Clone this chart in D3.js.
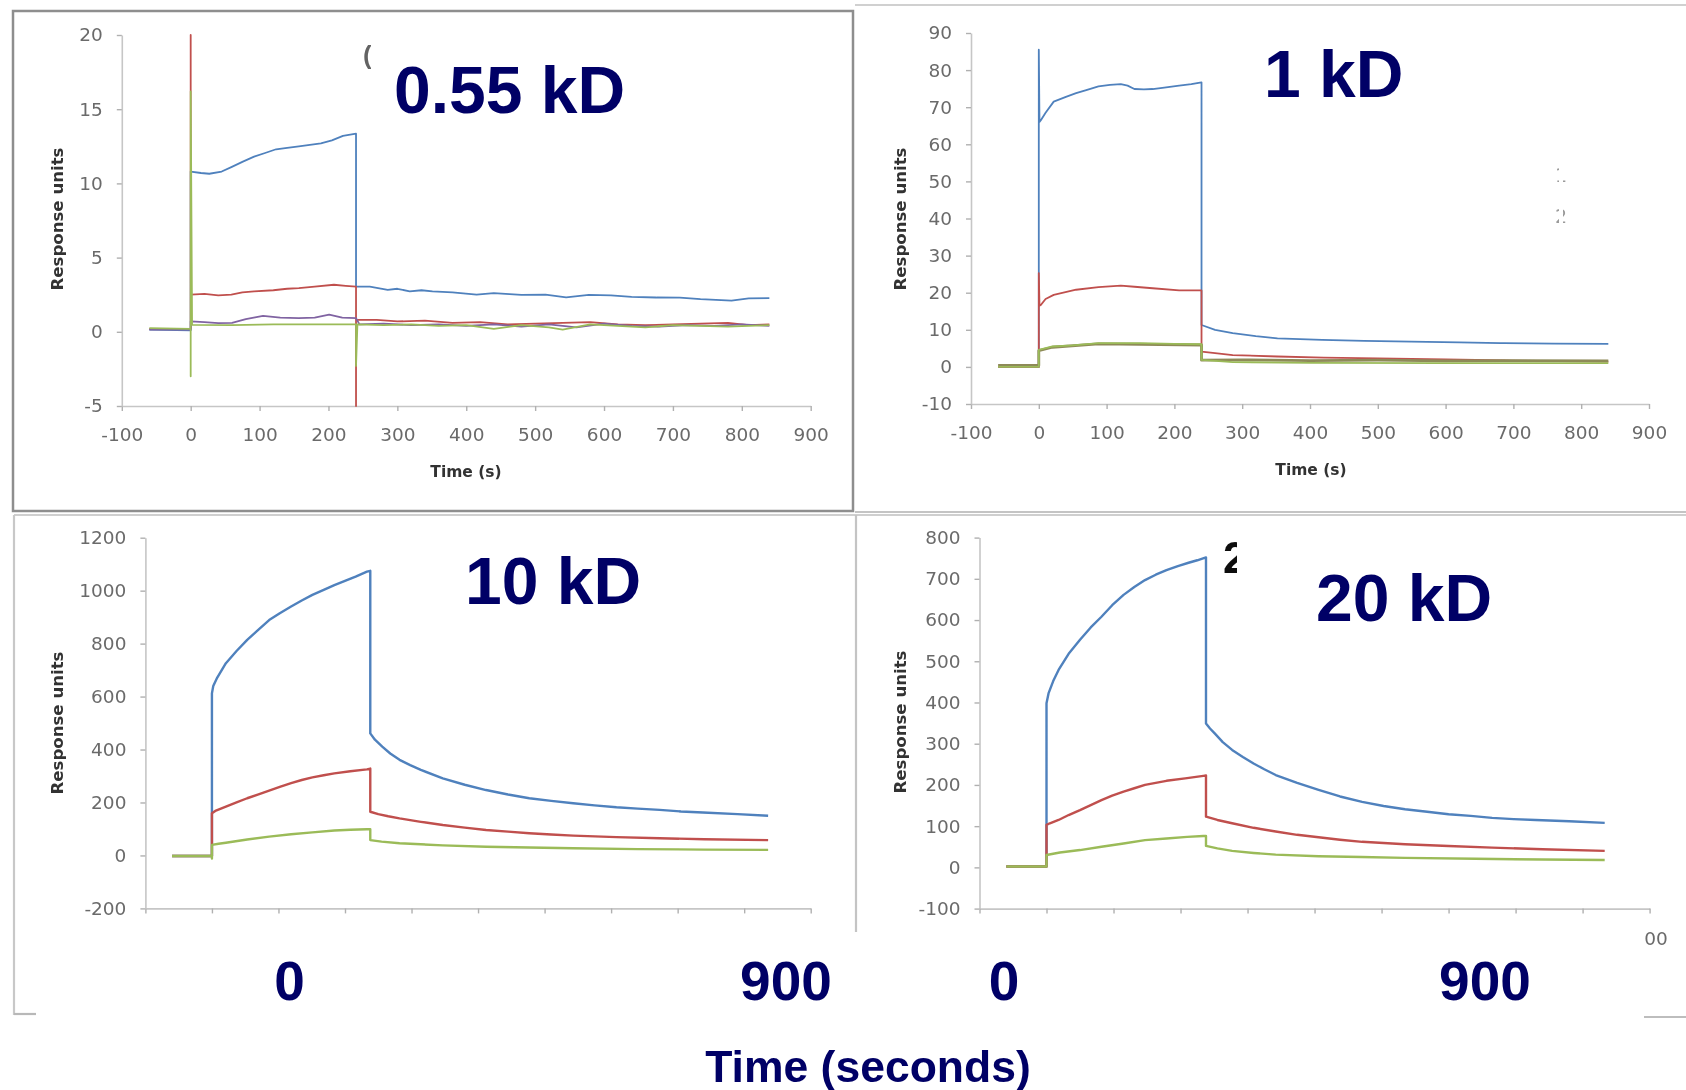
<!DOCTYPE html>
<html>
<head>
<meta charset="utf-8">
<script src="https://cdnjs.cloudflare.com/ajax/libs/d3/7.8.5/d3.min.js"></script>
<style>
  body { margin: 0; background: #fff; }
  svg { display: block; }
</style>
</head>
<body>
<svg id="fig"></svg>
<script>
// time ticks shared by all four sensorgrams
var xTicks = [-100, 0, 100, 200, 300, 400, 500, 600, 700, 800, 900];
var p1YTicks = [-5, 0, 5, 10, 15, 20];
var p2YTicks = [-10, 0, 10, 20, 30, 40, 50, 60, 70, 80, 90];
var p3YTicks = [-200, 0, 200, 400, 600, 800, 1000, 1200];
var p4YTicks = [-100, 0, 100, 200, 300, 400, 500, 600, 700, 800];

var titles = ["0.55 kD", "1 kD", "10 kD", "20 kD"];
var bottomLabels = ["0", "900"];

// [time (s), response units]
var p1Blue = [[-60,0.15],[0,0.1],[0,10.8],[15,10.7],[27,10.65],[45,10.8],[59,11.1],[75,11.45],[92,11.8],[108,12.05],[124,12.3],[140,12.4],[157,12.5],[173,12.6],[189,12.7],[205,12.9],[221,13.2],[240,13.35],[240,3.05],[260,3.05],[272,2.95],[286,2.83],[300,2.9],[318,2.72],[335,2.8],[351,2.72],[380,2.65],[415,2.5],[440,2.6],[480,2.49],[515,2.5],[545,2.32],[578,2.49],[610,2.45],[640,2.35],[675,2.31],[710,2.3],[740,2.2],[785,2.1],[810,2.25],[840,2.27]];
var p1Red = [[-60,0.2],[0,0.2],[0,20],[0,2.5],[20,2.55],[40,2.45],[59,2.5],[75,2.65],[92,2.72],[120,2.8],[140,2.9],[157,2.94],[180,3.05],[208,3.17],[225,3.1],[240,3.05],[240,-5],[240,0.8],[270,0.8],[300,0.7],[340,0.75],[380,0.6],[420,0.65],[460,0.5],[500,0.55],[540,0.6],[580,0.65],[620,0.5],[660,0.45],[700,0.5],[740,0.55],[780,0.6],[810,0.45],[840,0.5]];
var p1Purple = [[-60,0.15],[0,0.15],[0,0.7],[20,0.65],[40,0.58],[60,0.6],[80,0.85],[105,1.08],[130,0.95],[157,0.92],[180,0.95],[201,1.15],[220,0.95],[240,0.92],[245,0.5],[280,0.55],[320,0.45],[360,0.5],[400,0.4],[440,0.5],[480,0.35],[520,0.5],[560,0.3],[600,0.55],[640,0.4],[680,0.35],[720,0.45],[760,0.4],[800,0.5],[840,0.4]];
var p1Green = [[-60,0.25],[0,0.2],[0,-3],[0,16.2],[2,0.47],[60,0.45],[120,0.5],[180,0.5],[240,0.5],[240,-2.3],[242,0.5],[280,0.45],[320,0.5],[360,0.4],[400,0.45],[440,0.2],[480,0.45],[520,0.3],[540,0.15],[580,0.5],[620,0.4],[660,0.3],[700,0.45],[740,0.4],[780,0.35],[840,0.45]];

var p2Blue = [[-60,0],[0,0],[0,85.5],[1,66],[3,66.5],[10,68.5],[22,71.5],[40,72.8],[55,73.8],[70,74.6],[88,75.6],[105,76],[121,76.2],[131,75.8],[141,74.9],[155,74.8],[168,74.9],[185,75.3],[207,75.8],[225,76.2],[240,76.7],[240,11.3],[260,10],[286,9.1],[320,8.3],[352,7.7],[418,7.3],[480,7],[549,6.8],[620,6.6],[681,6.4],[760,6.3],[840,6.2]];
var p2Red = [[-60,0],[0,0],[0,25.3],[1,16.5],[3,16.7],[10,18.3],[22,19.4],[55,20.8],[88,21.5],[121,21.9],[141,21.6],[168,21.2],[207,20.6],[240,20.6],[240,4.1],[260,3.7],[286,3.2],[352,2.8],[420,2.5],[500,2.3],[600,2],[700,1.7],[840,1.4]];
var p2Olive = [[-60,0.4],[0,0.4],[0,4.4],[20,5.3],[88,6.2],[240,5.9],[240,1.8],[300,1.9],[400,1.7],[500,1.8],[600,1.6],[700,1.7],[840,1.6]];
var p2Green = [[-60,0],[0,0],[0,4.6],[20,5.5],[50,5.8],[88,6.4],[150,6.4],[200,6.2],[240,6.1],[240,1.9],[286,1.3],[400,1.1],[600,1.0],[840,1.0]];

var p3Blue = [[-60,-2],[0,-2],[0,612],[2,640],[8,672],[21,726],[37,772],[53,814],[70,853],[86,889],[102,915],[119,940],[135,963],[151,984],[168,1003],[184,1021],[200,1037],[216,1053],[233,1072],[238,1075],[238,461],[245,437],[256,411],[268,385],[282,361],[298,341],[314,323],[347,291],[380,267],[412,247],[445,230],[477,216],[510,206],[543,197],[575,189],[608,182],[640,177],[673,172],[705,166],[738,162],[790,156],[836,150]];
var p3Red = [[-60,-2],[0,-2],[0,159],[5,168],[21,184],[37,200],[53,216],[70,231],[86,245],[102,259],[119,273],[135,285],[151,295],[168,303],[184,310],[208,318],[233,325],[238,328],[238,165],[250,156],[265,148],[282,140],[314,127],[347,115],[380,105],[412,96],[445,90],[477,84],[510,79],[543,75],[608,69],[673,65],[740,61],[836,58]];
var p3Green = [[-60,-2],[0,-2],[0,-12],[0,40],[10,44],[21,48],[53,60],[86,71],[119,80],[151,87],[184,94],[208,97],[233,99],[238,99],[238,58],[255,52],[282,46],[347,38],[412,33],[477,30],[543,27],[640,24],[740,22],[836,21]];

var p4Blue = [[-60,2],[0,2],[0,398],[3,422],[10,452],[18,479],[33,518],[50,552],[66,582],[82,608],[98,636],[115,661],[131,680],[147,697],[163,710],[179,721],[196,731],[212,739],[225,745],[238,752],[238,349],[244,337],[251,325],[263,304],[277,285],[293,268],[309,252],[325,238],[342,224],[374,205],[406,188],[438,172],[471,159],[503,149],[535,141],[568,135],[600,129],[633,125],[665,120],[697,117],[730,115],[780,112],[833,108]];
var p4Red = [[-60,2],[0,2],[0,103],[5,107],[18,115],[33,127],[50,139],[66,151],[82,163],[98,174],[115,184],[131,192],[147,200],[163,205],[179,210],[207,216],[234,222],[238,223],[238,123],[255,115],[277,107],[309,96],[342,87],[374,79],[406,73],[438,67],[471,62],[503,59],[535,56],[600,52],[665,48],[740,44],[833,40]];
var p4Green = [[-60,2],[0,2],[0,30],[20,36],[50,42],[82,50],[115,58],[147,66],[179,70],[210,74],[234,76],[238,76],[238,52],[255,46],[277,40],[309,35],[342,31],[406,27],[470,25],[535,23],[640,21],[740,19],[833,18]];

var colors = {blue: '#4f81bd', red: '#c0504d', green: '#9bbb59', purple: '#8064a2', olive: '#8e8a58'};

var panels = [
  {xRange: [121.8, 810.7], yDomain: [-5, 20], yRange: [406, 35], yTicks: p1YTicks, sw: 1.8,
   lines: [[p1Blue, 'blue'], [p1Red, 'red'], [p1Purple, 'purple'], [p1Green, 'green']],
   yLabel: [57.6, 219], xLabel: [466, 472]},
  {xRange: [971, 1649], yDomain: [-10, 90], yRange: [404, 33], yTicks: p2YTicks, sw: 1.8,
   lines: [[p2Blue, 'blue'], [p2Red, 'red'], [p2Olive, 'olive'], [p2Green, 'green']],
   yLabel: [900.6, 219], xLabel: [1311, 470]},
  {xRange: [145.4, 810.7], yDomain: [-200, 1200], yRange: [908.4, 537.7], yTicks: p3YTicks, sw: 2.4,
   lines: [[p3Blue, 'blue'], [p3Red, 'red'], [p3Green, 'green']],
   yLabel: [57.6, 723], xLabel: [478, 985]},
  {xRange: [979.5, 1649.6], yDomain: [-100, 800], yRange: [908.6, 537.6], yTicks: p4YTicks, sw: 2.4,
   lines: [[p4Blue, 'blue'], [p4Red, 'red'], [p4Green, 'green']],
   yLabel: [900.6, 722], xLabel: [1314, 985]}
];

var svg = d3.select('#fig').attr('width', 1686).attr('height', 1090);

var defs = svg.append('defs');
defs.append('filter').attr('id', 'soft')
  .append('feGaussianBlur').attr('stdDeviation', 0.6);

// frames round the panels
var frames = svg.append('g').attr('filter', 'url(#soft)');
frames.append('rect').attr('x', 13).attr('y', 11).attr('width', 840).attr('height', 500)
  .attr('fill', 'none').attr('stroke', '#8e8e8e').attr('stroke-width', 2.5);
[[855, 5, 1686, 5, '#d0d0d0'], [855, 512, 1686, 512, '#c4c4c4'], [14, 515, 1686, 515, '#cfcfcf'],
 [14, 515, 14, 1015, '#c8c8c8'], [14, 1014, 36, 1014, '#b8b8b8'], [856, 515, 856, 932, '#c4c4c4'],
 [1644, 1017, 1686, 1017, '#bdbdbd']].forEach(function(l) {
  frames.append('line').attr('x1', l[0]).attr('y1', l[1]).attr('x2', l[2]).attr('y2', l[3])
    .attr('stroke', l[4]).attr('stroke-width', 2.2);
});

panels.forEach(function(p, i) {
  var x = d3.scaleLinear().domain([-100, 900]).range(p.xRange);
  var y = d3.scaleLinear().domain(p.yDomain).range(p.yRange);
  var g = svg.append('g').attr('filter', 'url(#soft)');

  var xAxis = g.append('g')
    .attr('transform', 'translate(0,' + p.yRange[0] + ')')
    .call(d3.axisBottom(x).tickValues(xTicks).tickSize(5).tickSizeOuter(0).tickPadding(i < 2 ? 17 : 18)
      .tickFormat(function(d) { return String(d); }));
  var yAxis = g.append('g')
    .attr('transform', 'translate(' + p.xRange[0] + ',0)')
    .call(d3.axisLeft(y).tickValues(p.yTicks).tickSize(5).tickSizeOuter(0).tickPadding(14)
      .tickFormat(function(d) { return String(d); }));

  [xAxis, yAxis].forEach(function(a) {
    a.select('.domain').attr('stroke', '#c6c6c6').attr('stroke-width', 1.6);
    a.selectAll('.tick line').attr('stroke', '#b0b0b0').attr('stroke-width', 1.4);
    a.selectAll('.tick text').attr('fill', '#6a6a6a')
      .style('font-family', '"DejaVu Sans", sans-serif').style('font-size', '18.5px');
  });

  g.append('text')
    .attr('transform', 'translate(' + p.yLabel[0] + ',' + p.yLabel[1] + ') rotate(-90)')
    .attr('text-anchor', 'middle').attr('dy', '0.35em')
    .attr('textLength', 143).attr('lengthAdjust', 'spacingAndGlyphs')
    .style('font-family', '"DejaVu Sans", sans-serif').style('font-weight', 'bold')
    .style('font-size', '15px').attr('fill', '#333')
    .text('Response units');
  g.append('text')
    .attr('x', p.xLabel[0]).attr('y', p.xLabel[1]).attr('dy', '0.35em')
    .attr('text-anchor', 'middle')
    .style('font-family', '"DejaVu Sans", sans-serif').style('font-weight', 'bold')
    .style('font-size', '15.5px').attr('fill', '#333')
    .text('Time (s)');

  var line = d3.line()
    .x(function(d) { return x(d[0]); })
    .y(function(d) { return y(d[1]); });

  p.lines.forEach(function(s) {
    g.append('path')
      .datum(s[0])
      .attr('d', line)
      .attr('fill', 'none')
      .attr('stroke', colors[s[1]])
      .attr('stroke-width', s[1] === 'olive' ? 2.8 : p.sw)
      .attr('stroke-linejoin', 'round');
  });
});

// what is left of the original panel captions and legend, under white patches
var bold = 'font-family:"Liberation Sans",Arial,sans-serif;font-weight:bold';
svg.append('text').attr('x', 363).attr('y', 64).attr('style', bold + ';font-size:26px')
  .attr('fill', '#222').attr('opacity', 0.7).attr('filter', 'url(#soft)').text('(');
svg.append('text').attr('x', 1223).attr('y', 573).attr('style', bold + ';font-size:44px')
  .attr('fill', '#111').attr('filter', 'url(#soft)').text('20 kD');
svg.append('text').attr('x', 1567).attr('y', 182).attr('text-anchor', 'end')
  .attr('style', 'font-family:"DejaVu Sans";font-size:19px').attr('fill', '#9a9a9a').text('1');
svg.append('text').attr('x', 1567).attr('y', 223).attr('text-anchor', 'end')
  .attr('style', 'font-family:"DejaVu Sans";font-size:19px').attr('fill', '#9a9a9a').text('2');

var patches = [[371, 35, 275, 90], [1237, 541, 270, 95], [1559, 150, 4, 90], [36, 932, 1608, 160]];
patches.forEach(function(r) {
  svg.append('rect').attr('x', r[0]).attr('y', r[1]).attr('width', r[2]).attr('height', r[3])
    .attr('fill', '#fff');
});

// the overlaid navy labels
var navy = '#000066';
var big = [
  [titles[0], 394, 113, 'start', 66], [titles[1], 1264, 97, 'start', 66],
  [titles[2], 465, 604, 'start', 66], [titles[3], 1316, 621, 'start', 66],
  [bottomLabels[0], 289.5, 1000, 'middle', 55], [bottomLabels[1], 786, 1000, 'middle', 55],
  [bottomLabels[0], 1004, 1000, 'middle', 55], [bottomLabels[1], 1485, 1000, 'middle', 55],
  ['Time (seconds)', 868, 1082, 'middle', 44.5]
];
big.forEach(function(b) {
  svg.append('text').attr('x', b[1]).attr('y', b[2]).attr('text-anchor', b[3])
    .attr('style', bold + ';font-size:' + b[4] + 'px').attr('fill', navy).text(b[0]);
});
</script>
</body>
</html>
